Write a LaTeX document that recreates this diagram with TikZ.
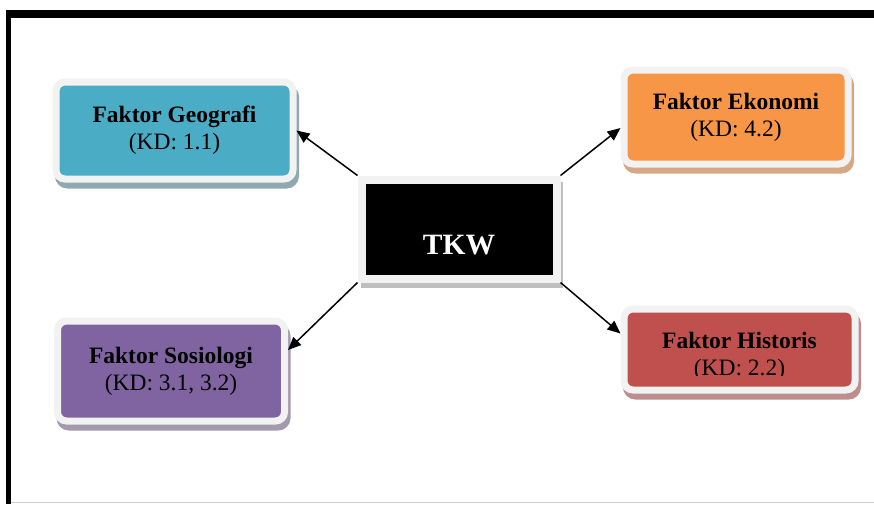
\documentclass[tikz,border=0pt]{standalone}
\usepackage{fontspec}
\setmainfont{Liberation Serif}
\usetikzlibrary{arrows.meta,shadows}
\definecolor{geoblue}{HTML}{4BACC6}
\definecolor{ekoorange}{HTML}{F79646}
\definecolor{hisred}{HTML}{C0504D}
\definecolor{sospurple}{HTML}{8064A2}
\definecolor{framegray}{HTML}{F2F2F2}
\definecolor{geoshade}{HTML}{8FA9B0}
\definecolor{ekoshade}{HTML}{D6A886}
\definecolor{hisshade}{HTML}{BC8E8D}
\definecolor{sosshade}{HTML}{A49AAE}

\begin{document}
\begin{tikzpicture}[x=1pt, y=-1pt, >={Triangle[length=13pt,width=11pt]},
  factor/.style={draw=framegray, line width=7pt, rounded corners=9pt,
    align=center, inner sep=0pt, font=\fontsize{23.5}{27}\selectfont},
  boxshade/.style={drop shadow={shadow xshift=2.5pt, shadow yshift=-6pt,
    opacity=1, fill=#1, draw=#1, line width=7pt}},
  link/.style={->, line width=1.5pt}]
  \useasboundingbox (0,0) rectangle (874,504);
  % page frame
  \fill (6,10) rectangle (874,18);
  \fill (6,10) rectangle (11,504);
  \draw[black!20, line width=1pt] (11,502) -- (874,502);
  % centre
  \node[draw=framegray, line width=8pt, fill=black, boxshade=black!25,
    minimum width=195pt, minimum height=99pt] (tkw) at (459,229) {};
  \node[text=white, font=\fontsize{29.5}{34}\selectfont\bfseries] (tkwlabel) at (459,245) {TKW};
  % factors
  \node[factor, fill=geoblue, boxshade=geoshade, minimum width=237pt, minimum height=97pt]
    (geo) at (174.5,130.5) {\textbf{Faktor Geografi}\\(KD: 1.1)};
  \node[factor, fill=ekoorange, boxshade=ekoshade, minimum width=224pt, minimum height=94pt]
    (eko) at (736,117) {\textbf{Faktor Ekonomi}\\(KD: 4.2)};
  \node[factor, fill=hisred, boxshade=hisshade, minimum width=231pt, minimum height=81pt]
    (his) at (739.5,349.5) {};
  \begin{scope}
    \clip (627,313) rectangle (852,375);
    \node[align=center, font=\fontsize{23.5}{27}\selectfont] (hislabel) at (739.5,356)
      {\textbf{Faktor Historis}\\(KD: 2.2)};
  \end{scope}
  \node[factor, fill=sospurple, boxshade=sosshade, minimum width=227pt, minimum height=100pt]
    (sos) at (171,371) {\textbf{Faktor Sosiologi}\\(KD: 3.1, 3.2)};
  % arrows
  \draw[link] (tkw.north west) -- (geo.east);
  \draw[link] (tkw.north east) -- ([yshift=-11pt]eko.west);
  \draw[link] (tkw.south east) -- ([yshift=16pt]his.west);
  \draw[link] (tkw.south west) -- ([yshift=21pt]sos.east);
\end{tikzpicture}
\end{document}
